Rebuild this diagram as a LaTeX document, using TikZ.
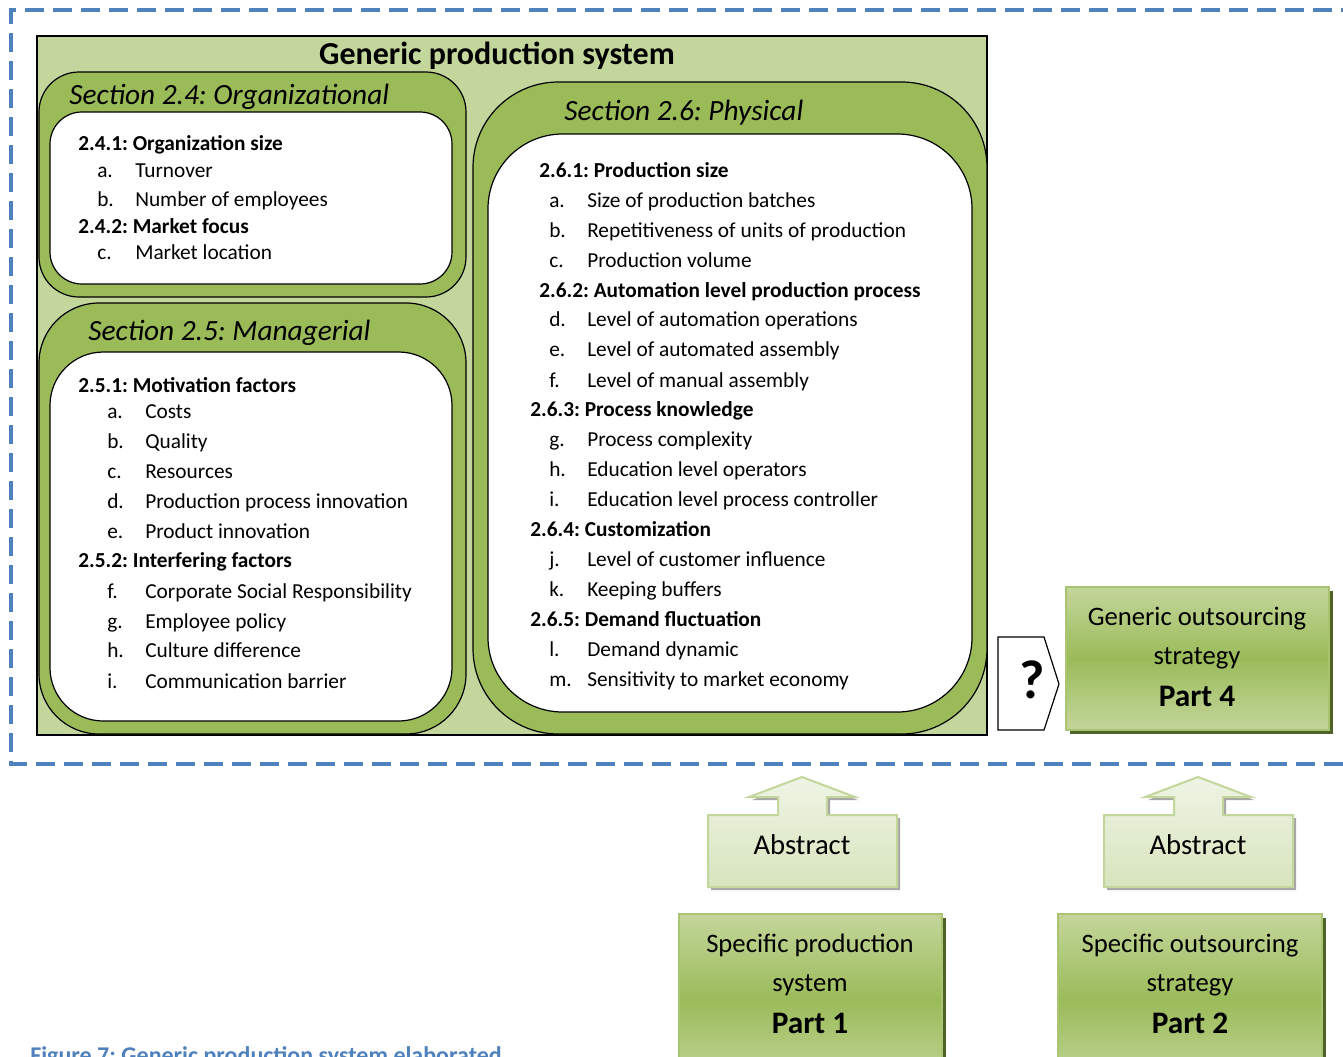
\documentclass[tikz,border=0pt]{standalone}
\usepackage{fontspec}
\setmainfont{Carlito}
\frenchspacing
\definecolor{palegreen}{HTML}{C3D69B}
\definecolor{secgreen}{HTML}{9BBB59}
\definecolor{deepgreen}{HTML}{4F6228}
\definecolor{dashblue}{HTML}{4F81BD}
\definecolor{absfill}{HTML}{D7E4BD}
\definecolor{absshadow}{HTML}{A6A6A6}
\begin{document}
\begin{tikzpicture}[x=0.75pt,y=-0.75pt,
  frame/.style={draw=black, line width=0.9pt, fill=secgreen},
  whitebox/.style={draw=black, line width=0.9pt, fill=white},
  item/.style={anchor=base west, inner sep=0pt, font=\fontsize{16}{19}\selectfont},
  head/.style={item, font=\fontsize{16}{19}\selectfont\bfseries},
  sectitle/.style={anchor=base west, inner sep=0pt, font=\fontsize{22}{26}\selectfont\itshape},
  partbox/.style={draw=secgreen!85!white, line width=1.5pt, top color=palegreen, bottom color=palegreen, middle color=secgreen},
  partshadow/.style={fill=deepgreen},
  parttext/.style={anchor=base, inner sep=0pt, font=\fontsize{20}{24}\selectfont},
  partnum/.style={anchor=base, inner sep=0pt, font=\fontsize{23.5}{28}\selectfont\bfseries},
  absbox/.style={draw=palegreen, line width=1.5pt, top color=white!60!absfill, bottom color=absfill},
  absshade/.style={fill=absshadow},
  abstext/.style={anchor=base, inner sep=0pt, font=\fontsize{21.5}{25}\selectfont}]
\useasboundingbox (0,0) rectangle (1343,1057);

% dashed boundary of the generic level (open to the right)
\draw[dashblue, line width=2.4pt, dash pattern=on 14pt off 7pt]
  (1360,10) -- (11,10) -- (11,764) -- (1360,764);

% generic production system
\draw[fill=palegreen, draw=black, line width=0.9pt] (37,36) rectangle (987,735);
\node[anchor=base, inner sep=0pt, font=\fontsize{24}{28}\selectfont\bfseries] (gps) at (497,64) {Generic production system};

% section 2.4
\draw[frame, rounded corners=30pt] (39,72) rectangle (466,297);
\draw[whitebox, rounded corners=24pt] (50,112) rectangle (452,284);
\node[sectitle] (s24) at (69,104) {Section 2.4: Organizational};
\node[head] (h241) at (78,150) {2.4.1: Organization size};
\node[item] (l24a) at (97,177) {a.};  \node[item] (t24a) at (135,177) {Turnover};
\node[item] (l24b) at (97,206) {b.};  \node[item] (t24b) at (135,206) {Number of employees};
\node[head] (h242) at (78,233) {2.4.2: Market focus};
\node[item] (l24c) at (97,259) {c.};  \node[item] (t24c) at (135,259) {Market location};

% section 2.5
\draw[frame, rounded corners=45pt] (39,303) rectangle (466,734);
\draw[whitebox, rounded corners=40pt] (50,352) rectangle (452,721);
\node[sectitle] (s25) at (88,340) {Section 2.5: Managerial};
\node[head] (h251) at (78,392) {2.5.1: Motivation factors};
\foreach \k/\y/\l/\t in {a/418/a./Costs, b/448/b./Quality, c/478/c./Resources,
    d/508/d./Production process innovation, e/538/e./Product innovation} {
  \node[item] (l25\k) at (107,\y) {\l};
  \node[item] (t25\k) at (145,\y) {\t};
}
\node[head] (h252) at (78,567) {2.5.2: Interfering factors};
\foreach \k/\y/\l/\t in {f/598/f./Corporate Social Responsibility, g/628/g./Employee policy,
    h/657/h./Culture difference, i/688/i./Communication barrier} {
  \node[item] (l25\k) at (107,\y) {\l};
  \node[item] (t25\k) at (145,\y) {\t};
}

% section 2.6
\draw[frame, rounded corners=64pt] (473,82) rectangle (987,734);
\draw[whitebox, rounded corners=56pt] (488,134) rectangle (972,712);
\node[sectitle] (s26) at (564,120) {Section 2.6: Physical};
\node[head] (h261) at (539,177) {2.6.1: Production size};
\node[head] (h262) at (539,297) {2.6.2: Automation level production process};
\node[head] (h263) at (530,416) {2.6.3: Process knowledge};
\node[head] (h264) at (530,536) {2.6.4: Customization};
\node[head] (h265) at (530,626) {2.6.5: Demand fluctuation};
\foreach \k/\y/\l/\t in {a/207/a./Size of production batches,
    b/237/b./Repetitiveness of units of production,
    c/267/c./Production volume,
    d/326/d./Level of automation operations,
    e/356/e./Level of automated assembly,
    f/387/f./Level of manual assembly,
    g/446/g./Process complexity,
    h/476/h./Education level operators,
    i/506/i./Education level process controller,
    j/566/j./Level of customer influence,
    k/596/k./Keeping buffers,
    l/656/l./Demand dynamic,
    m/686/m./Sensitivity to market economy} {
  \node[item] (l26\k) at (549,\y) {\l};
  \node[item] (t26\k) at (587,\y) {\t};
}

% question mark pointer
\draw[fill=white, draw=black, line width=0.9pt]
  (998,637) -- (1044,637) -- (1059,684) -- (1044,730) -- (998,730) -- cycle;
\node[anchor=base, inner sep=0pt, font=\fontsize{41}{45}\selectfont\bfseries] (q) at (1032,698) {?};

% part 4
\fill[partshadow] (1070,591) rectangle (1333,734);
\draw[partbox] (1066,587) rectangle (1329,730);
\node[parttext] (p4a) at (1197,625) {Generic outsourcing};
\node[parttext] (p4b) at (1197,664) {strategy};
\node[partnum] (p4c) at (1197,706) {Part 4};

% abstraction arrows
\foreach \cx/\nm in {802/absA, 1198/absB} {
  \begin{scope}[xshift=\cx*0.75pt]
    \fill[absshade, shift={(3,3)}]
      (-94,815) -- (-24,815) -- (-24,797) -- (-53,797) -- (0,777) -- (53,797)
      -- (25,797) -- (25,815) -- (95,815) -- (95,887) -- (-94,887) -- cycle;
    \draw[absbox]
      (-94,815) -- (-24,815) -- (-24,797) -- (-53,797) -- (0,777) -- (53,797)
      -- (25,797) -- (25,815) -- (95,815) -- (95,887) -- (-94,887) -- cycle;
    \node[abstext] (\nm) at (0,854) {Abstract};
  \end{scope}
}

% part 1
\fill[partshadow] (683,918) rectangle (946,1090);
\draw[partbox] (679,914) rectangle (942,1086);
\node[parttext] (p1a) at (810,952) {Specific production};
\node[parttext] (p1b) at (810,991) {system};
\node[partnum] (p1c) at (810,1033) {Part 1};

% part 2
\fill[partshadow] (1062,918) rectangle (1326,1090);
\draw[partbox] (1058,914) rectangle (1322,1086);
\node[parttext] (p2a) at (1190,952) {Specific outsourcing};
\node[parttext] (p2b) at (1190,991) {strategy};
\node[partnum] (p2c) at (1190,1033) {Part 2};

% caption
\node[anchor=base west, inner sep=0pt, text=dashblue, font=\fontsize{18}{21}\selectfont\bfseries] (cap) at (30,1063) {Figure 7: Generic production system elaborated};
\end{tikzpicture}
\end{document}
